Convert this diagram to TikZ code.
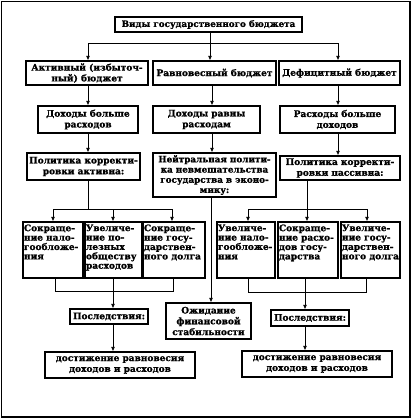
\documentclass[tikz,border=0pt]{standalone}
\usepackage{fontspec}
\setmainfont{DejaVu Serif}[BoldFeatures={FakeBold=1.2}]
\usetikzlibrary{arrows.meta}
\tikzset{
  box/.style={draw, line width=1.3pt, inner sep=0pt, align=center,
    font=\bfseries\fontsize{9}{10.8}\selectfont},
  sbox/.style={draw, line width=1.3pt, inner sep=0pt},
  ln/.style={line width=0.8pt},
  arr/.style={line width=0.8pt, -{Latex[length=4.5pt,width=4pt]}},
}
\newcommand{\bt}[3]{\parbox[c][#2pt][t]{#1pt}{\raggedright\bfseries\fontsize{9}{9.4}\selectfont\vspace{1.5pt}#3}}
\begin{document}
\begin{tikzpicture}[x=1pt,y=-1pt]
\useasboundingbox (0,0) rectangle (415,418);
\draw[line width=1.2pt] (1.5,1.5) rectangle (410,417);
% row 1
\node[box, minimum width=187pt, minimum height=15pt, font=\bfseries\fontsize{8.8}{10}\selectfont] (top) at (208.5,24.5) {Виды государственного бюджета};
% row 2
\node[box, minimum width=122pt, minimum height=24pt] (a1) at (87,73) {Активный (избыточ-\\ный) бюджет};
\node[box, minimum width=123pt, minimum height=24pt] (b1) at (214.5,73) {Равновесный бюджет};
\node[box, minimum width=121pt, minimum height=24pt] (c1) at (339.5,73) {Дефицитный бюджет};
% row 3
\node[box, minimum width=100pt, minimum height=27pt] (a2) at (88,119.5) {Доходы больше\\расходов};
\node[box, minimum width=107pt, minimum height=27pt] (b2) at (206.5,119.5) {Доходы равны\\расходам};
\node[box, minimum width=115pt, minimum height=27pt] (c2) at (337.5,119.5) {Расходы больше\\доходов};
% row 4
\node[box, minimum width=113pt, minimum height=27pt] (a3) at (83.5,166.5) {Политика корректи-\\ровки активна:};
\node[box, minimum width=123pt, minimum height=44pt, font=\bfseries\fontsize{8.8}{10.2}\selectfont] (b3) at (214.5,175) {Нейтральная полити-\\ка невмешательства\\государства в эконо-\\мику:};
\node[box, minimum width=120pt, minimum height=24pt] (c3) at (340,168) {Политика корректи-\\ровки пассивна:};
% row 5
\node[sbox, minimum width=60pt, minimum height=56pt] (l1) at (53,250) {\bt{58}{54}{Сокраще-\\ние нало-\\гообложе-\\ния}};
\node[sbox, minimum width=57pt, minimum height=56pt] (l2) at (113.5,250) {\bt{55}{54}{Увеличе-\\ние по-\\лезных\\обществу\\расходов}};
\node[sbox, minimum width=62pt, minimum height=56pt] (l3) at (174,250) {\bt{60}{54}{Сокраще-\\ние госу-\\дарствен-\\ного долга}};
\node[sbox, minimum width=58pt, minimum height=56pt] (r1) at (246,250) {\bt{56}{54}{Увеличе-\\ние нало-\\гообложе-\\ния}};
\node[sbox, minimum width=60pt, minimum height=56pt] (r2) at (308,250) {\bt{58}{54}{Сокраще-\\ние расхо-\\дов госу-\\дарства}};
\node[sbox, minimum width=59pt, minimum height=56pt] (r3) at (370.5,250) {\bt{57}{54}{Увеличе-\\ние госу-\\дарствен-\\ного долга}};
% lower
\node[box, minimum width=85pt, minimum height=36pt] (mid) at (208.5,321) {Ожидание\\финансовой\\стабильности};
\node[box, minimum width=78pt, minimum height=15pt] (lc) at (109,316.5) {Последствия:};
\node[box, minimum width=78pt, minimum height=16pt] (rc) at (310,318) {Последствия:};
\node[box, minimum width=150pt, minimum height=26pt] (lf) at (120,365) {достижение равновесия\\доходов и расходов};
\node[box, minimum width=150pt, minimum height=26pt] (rf) at (317,364) {достижение равновесия\\доходов и расходов};
% columns
\coordinate (cA) at (88,43);
\coordinate (cB) at (210,43);
\coordinate (cC) at (338,43);
\coordinate (cB2) at (212,0);
\coordinate (cM) at (211,0);
% row1 -> row2
\draw[ln] (top.south -| cB) -- (cB);
\draw[ln] (cA) -- (cC);
\draw[arr] (cA) -- (a1.north -| cA);
\draw[arr] (cB) -- (b1.north -| cB);
\draw[arr] (cC) -- (c1.north -| cC);
% row2 -> row3
\draw[arr] (a1.south -| cA) -- (a2.north -| cA);
\draw[arr] (b1.south -| cB2) -- (b2.north -| cB2);
\draw[arr] (c1.south -| cC) -- (c2.north -| cC);
% row3 -> row4
\draw[arr] (a2.south -| cA) -- (a3.north -| cA);
\draw[arr] (b2.south -| cB2) -- (b3.north -| cB2);
\draw[arr] (c2.south -| cC) -- (c3.north -| cC);
% row4 -> row5 left
\coordinate (jl) at (88,209);
\coordinate (jl1) at (53,209);
\coordinate (jl2) at (113,209);
\coordinate (jl3) at (172,209);
\draw[ln] (a3.south -| jl) -- (jl);
\draw[ln] (jl1) -- (jl3);
\draw[arr] (jl1) -- (l1.north -| jl1);
\draw[arr] (jl2) -- (l2.north -| jl2);
\draw[arr] (jl3) -- (l3.north -| jl3);
% row4 -> row5 right
\coordinate (jr) at (307,209);
\coordinate (jr1) at (248,209);
\coordinate (jr3) at (367,209);
\draw[ln] (c3.south -| jr) -- (jr);
\draw[ln] (jr1) -- (jr3);
\draw[arr] (jr1) -- (r1.north -| jr1);
\draw[arr] (jr) -- (r2.north -| jr);
\draw[arr] (jr3) -- (r3.north -| jr3);
% middle
\draw[arr] (b3.south -| cM) -- (mid.north -| cM);
% left bracket
\coordinate (bl1) at (55,291);
\coordinate (bl3) at (173,291);
\coordinate (bl2) at (113,0);
\draw[ln] (l1.south -| bl1) -- (bl1) -- (bl3) -- (l3.south -| bl3);
\draw[arr] (l2.south -| bl2) -- (lc.north -| bl2);
\draw[arr] (lc.south -| bl2) -- (lf.north -| bl2);
% right bracket
\coordinate (br1) at (248,292);
\coordinate (br3) at (366,292);
\coordinate (br2) at (305,0);
\draw[ln] (r1.south -| br1) -- (br1) -- (br3) -- (r3.south -| br3);
\draw[arr] (r2.south -| br2) -- (rc.north -| br2);
\draw[arr] (rc.south -| br2) -- (rf.north -| br2);
\end{tikzpicture}
\end{document}
